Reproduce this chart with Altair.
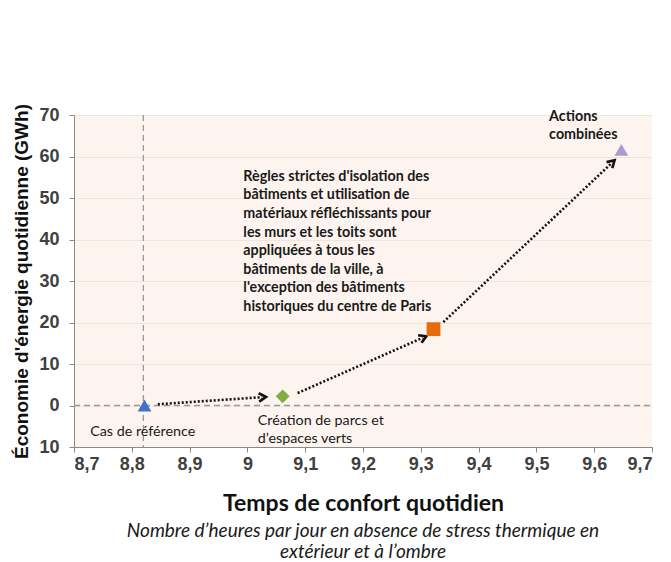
import math
import altair as alt
import pandas as pd

# ---- data ----
scenarios = ["Cas de référence", "Création de parcs", "Isolation", "Actions combinées"]
comfort_hours = [8.822, 9.061, 9.322, 9.647]
energy_saving = [0.0, 2.2, 18.4, 61.6]
marker_shapes = ["triangle-up", "diamond", "square", "triangle-up"]
marker_colors = ["#4472C4", "#7DAE3F", "#E46C0A", "#A99BD1"]

arrow_x1 = [8.845, 9.087, 9.339]
arrow_y1 = [0.3, 3.0, 20.1]
arrow_x2 = [9.025, 9.303, 9.630]
arrow_y2 = [2.0, 16.3, 58.4]

x_ticks = [8.7, 8.8, 8.9, 9.0, 9.1, 9.2, 9.3, 9.4, 9.5, 9.6, 9.7]
y_ticks = [-10, 0, 10, 20, 30, 40, 50, 60, 70]
ref_x = 8.82
ref_y = 0

label_normal_x = [8.728, 9.018]
label_normal_y = [-4.6, -2.0]
label_normal_text = ["Cas de référence", "Création de parcs et\nd’espaces verts"]

label_bold_x = [8.993, 9.522]
label_bold_y = [56.8, 71.3]
label_bold_text = [
    "Règles strictes d'isolation des\nbâtiments et utilisation de\nmatériaux réfléchissants pour\n"
    "les murs et les toits sont\nappliquées à tous les\nbâtiments de la ville, à\n"
    "l'exception des bâtiments\nhistoriques du centre de Paris",
    "Actions\ncombinées",
]

# ---- layout ----
W, H = 578, 332
X_DOM = [8.7, 9.7]
Y_DOM = [-10, 70]
px_x = W / (X_DOM[1] - X_DOM[0])
px_y = H / (Y_DOM[1] - Y_DOM[0])

pts = pd.DataFrame({"s": scenarios, "x": comfort_hours, "y": energy_saving})

arr = pd.DataFrame({"x": arrow_x1, "y": arrow_y1, "x2": arrow_x2, "y2": arrow_y2})
arr["ang"] = [
    (math.degrees(math.atan2(-(b2 - b1) * px_y, (a2 - a1) * px_x)) + 360) % 360
    for a1, b1, a2, b2 in zip(arrow_x1, arrow_y1, arrow_x2, arrow_y2)
]

xs = alt.Scale(domain=X_DOM, nice=False, zero=False)
ys = alt.Scale(domain=Y_DOM, nice=False, zero=False)

x_axis = alt.Axis(
    values=x_ticks,
    labelExpr="replace(format(datum.value, '.1~f'), '.', ',')",
    grid=False,
    title="Temps de confort quotidien",
    titleFont="Lato", titleFontSize=23, titleFontWeight="bold", titleColor="#111",
    titlePadding=19,
    labelFont="Liberation Sans", labelFontSize=18, labelFontWeight="bold",
    labelColor="#404040", labelPadding=3,
    domainColor="#8a8a8a", tickColor="#8a8a8a", tickSize=5,
)
y_axis = alt.Axis(
    values=y_ticks,
    labelExpr="'' + abs(datum.value)",
    grid=True, gridColor="#EFE4DE",
    title="Économie d'énergie quotidienne (GWh)",
    titleFont="Liberation Sans", titleFontSize=19, titleFontWeight="bold", titleColor="#111",
    titlePadding=7,
    labelFont="Liberation Sans", labelFontSize=18, labelFontWeight="bold",
    labelColor="#404040", labelPadding=10,
    domainColor="#8a8a8a", tickColor="#8a8a8a", tickSize=5,
)

base_axes = alt.Chart(pts).mark_point(opacity=0).encode(
    x=alt.X("x:Q", scale=xs, axis=x_axis),
    y=alt.Y("y:Q", scale=ys, axis=y_axis),
)

vline = alt.Chart(pd.DataFrame({"x": [ref_x], "y": [Y_DOM[1]], "y2": [Y_DOM[0]]})).mark_rule(
    color="#9a9a9a", strokeDash=[6, 4], strokeWidth=1.3
).encode(x=alt.X("x:Q", scale=xs), y=alt.Y("y:Q", scale=ys), y2="y2:Q")

hline = alt.Chart(pd.DataFrame({"x": [X_DOM[0]], "x2": [X_DOM[1]], "y": [ref_y]})).mark_rule(
    color="#9a9a9a", strokeDash=[6, 4], strokeWidth=1.3
).encode(x=alt.X("x:Q", scale=xs), x2="x2:Q", y=alt.Y("y:Q", scale=ys))

dots = alt.Chart(arr).mark_rule(color="#111", strokeDash=[2, 2], strokeWidth=2.6).encode(
    x=alt.X("x:Q", scale=xs), y=alt.Y("y:Q", scale=ys), x2="x2:Q", y2="y2:Q"
)
heads = alt.Chart(arr).mark_point(
    shape="M-0.7,-1L1,0L-0.7,1", filled=False, color="#111", strokeWidth=2.6, size=70, opacity=1
).encode(
    x=alt.X("x2:Q", scale=xs), y=alt.Y("y2:Q", scale=ys), angle=alt.Angle("ang:Q", scale=None)
)

markers = alt.Chart(pts).mark_point(filled=True, opacity=1, size=190).encode(
    x=alt.X("x:Q", scale=xs),
    y=alt.Y("y:Q", scale=ys),
    shape=alt.Shape("s:N", scale=alt.Scale(domain=scenarios, range=marker_shapes), legend=None),
    color=alt.Color("s:N", scale=alt.Scale(domain=scenarios, range=marker_colors), legend=None),
)

txt_normal = alt.Chart(pd.DataFrame({"x": label_normal_x, "y": label_normal_y, "t": label_normal_text})).mark_text(
    align="left", baseline="top", font="Lato", fontSize=14.3, color="#1a1a1a", lineBreak="\n", lineHeight=18
).encode(x=alt.X("x:Q", scale=xs), y=alt.Y("y:Q", scale=ys), text="t:N")

txt_bold = alt.Chart(pd.DataFrame({"x": label_bold_x, "y": label_bold_y, "t": label_bold_text})).mark_text(
    align="left", baseline="top", font="Lato", fontSize=14.3, fontWeight="bold", color="#1a1a1a",
    lineBreak="\n", lineHeight=18.6
).encode(x=alt.X("x:Q", scale=xs), y=alt.Y("y:Q", scale=ys), text="t:N")

chart = alt.layer(base_axes, vline, hline, dots, heads, markers, txt_normal, txt_bold).properties(
    width=W, height=H,
    autosize=alt.AutoSizeParams(type="none"),
    padding={"left": 66, "top": 107, "right": 11, "bottom": 115},
    background="white",
    title=alt.TitleParams(
        text=["Nombre d’heures par jour en absence de stress thermique en", "extérieur et à l’ombre"],
        orient="bottom", anchor="middle", font="Lato", fontSize=19, fontStyle="italic",
        fontWeight="normal", color="#1a1a1a", lineHeight=21, offset=7,
    ),
).configure_view(fill="#FDF4EF", stroke=None)

chart.save("out.html", embed_options={"renderer": "svg", "actions": False})
